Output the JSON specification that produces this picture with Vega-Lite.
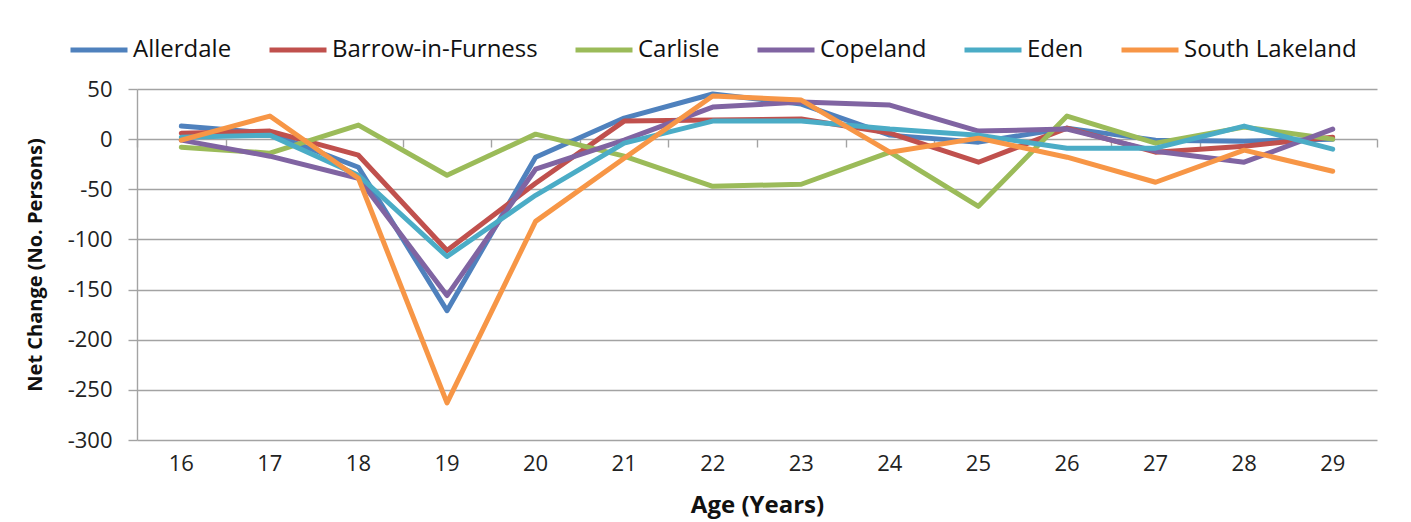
{
  "$schema": "https://vega.github.io/schema/vega-lite/v6.json",
  "width": 1240,
  "height": 351,
  "autosize": {"type": "none"},
  "padding": {"left": 137, "top": 89, "right": 34, "bottom": 82},
  "background": "white",
  "config": {"view": {"stroke": null}, "font": "Open Sans"},
  "data": {"values": [
    {"age": 16, "district": "Allerdale", "value": 13},
    {"age": 17, "district": "Allerdale", "value": 6},
    {"age": 18, "district": "Allerdale", "value": -28},
    {"age": 19, "district": "Allerdale", "value": -171},
    {"age": 20, "district": "Allerdale", "value": -18},
    {"age": 21, "district": "Allerdale", "value": 21},
    {"age": 22, "district": "Allerdale", "value": 45},
    {"age": 23, "district": "Allerdale", "value": 35},
    {"age": 24, "district": "Allerdale", "value": 4},
    {"age": 25, "district": "Allerdale", "value": -3},
    {"age": 26, "district": "Allerdale", "value": 11},
    {"age": 27, "district": "Allerdale", "value": -1},
    {"age": 28, "district": "Allerdale", "value": -2},
    {"age": 29, "district": "Allerdale", "value": 0},
    {"age": 16, "district": "Barrow-in-Furness", "value": 6},
    {"age": 17, "district": "Barrow-in-Furness", "value": 8},
    {"age": 18, "district": "Barrow-in-Furness", "value": -16},
    {"age": 19, "district": "Barrow-in-Furness", "value": -111},
    {"age": 20, "district": "Barrow-in-Furness", "value": -44},
    {"age": 21, "district": "Barrow-in-Furness", "value": 18},
    {"age": 22, "district": "Barrow-in-Furness", "value": 19},
    {"age": 23, "district": "Barrow-in-Furness", "value": 20},
    {"age": 24, "district": "Barrow-in-Furness", "value": 6},
    {"age": 25, "district": "Barrow-in-Furness", "value": -23},
    {"age": 26, "district": "Barrow-in-Furness", "value": 11},
    {"age": 27, "district": "Barrow-in-Furness", "value": -13},
    {"age": 28, "district": "Barrow-in-Furness", "value": -7},
    {"age": 29, "district": "Barrow-in-Furness", "value": 2},
    {"age": 16, "district": "Carlisle", "value": -8},
    {"age": 17, "district": "Carlisle", "value": -14},
    {"age": 18, "district": "Carlisle", "value": 14},
    {"age": 19, "district": "Carlisle", "value": -36},
    {"age": 20, "district": "Carlisle", "value": 5},
    {"age": 21, "district": "Carlisle", "value": -17},
    {"age": 22, "district": "Carlisle", "value": -47},
    {"age": 23, "district": "Carlisle", "value": -45},
    {"age": 24, "district": "Carlisle", "value": -13},
    {"age": 25, "district": "Carlisle", "value": -67},
    {"age": 26, "district": "Carlisle", "value": 23},
    {"age": 27, "district": "Carlisle", "value": -4},
    {"age": 28, "district": "Carlisle", "value": 12},
    {"age": 29, "district": "Carlisle", "value": 0},
    {"age": 16, "district": "Copeland", "value": -1},
    {"age": 17, "district": "Copeland", "value": -17},
    {"age": 18, "district": "Copeland", "value": -39},
    {"age": 19, "district": "Copeland", "value": -156},
    {"age": 20, "district": "Copeland", "value": -30},
    {"age": 21, "district": "Copeland", "value": -1},
    {"age": 22, "district": "Copeland", "value": 32},
    {"age": 23, "district": "Copeland", "value": 37},
    {"age": 24, "district": "Copeland", "value": 34},
    {"age": 25, "district": "Copeland", "value": 8},
    {"age": 26, "district": "Copeland", "value": 10},
    {"age": 27, "district": "Copeland", "value": -12},
    {"age": 28, "district": "Copeland", "value": -23},
    {"age": 29, "district": "Copeland", "value": 10},
    {"age": 16, "district": "Eden", "value": 2},
    {"age": 17, "district": "Eden", "value": 4},
    {"age": 18, "district": "Eden", "value": -36},
    {"age": 19, "district": "Eden", "value": -117},
    {"age": 20, "district": "Eden", "value": -56},
    {"age": 21, "district": "Eden", "value": -4},
    {"age": 22, "district": "Eden", "value": 18},
    {"age": 23, "district": "Eden", "value": 18},
    {"age": 24, "district": "Eden", "value": 10},
    {"age": 25, "district": "Eden", "value": 4},
    {"age": 26, "district": "Eden", "value": -9},
    {"age": 27, "district": "Eden", "value": -9},
    {"age": 28, "district": "Eden", "value": 13},
    {"age": 29, "district": "Eden", "value": -10},
    {"age": 16, "district": "South Lakeland", "value": -1},
    {"age": 17, "district": "South Lakeland", "value": 23},
    {"age": 18, "district": "South Lakeland", "value": -39},
    {"age": 19, "district": "South Lakeland", "value": -263},
    {"age": 20, "district": "South Lakeland", "value": -82},
    {"age": 21, "district": "South Lakeland", "value": -19},
    {"age": 22, "district": "South Lakeland", "value": 43},
    {"age": 23, "district": "South Lakeland", "value": 39},
    {"age": 24, "district": "South Lakeland", "value": -13},
    {"age": 25, "district": "South Lakeland", "value": 1},
    {"age": 26, "district": "South Lakeland", "value": -18},
    {"age": 27, "district": "South Lakeland", "value": -43},
    {"age": 28, "district": "South Lakeland", "value": -11},
    {"age": 29, "district": "South Lakeland", "value": -32}
  ]},
  "layer": [
    {
      "mark": {"type": "line", "strokeWidth": 5, "strokeJoin": "round", "strokeCap": "round"},
      "encoding": {
        "x": {
          "field": "age", "type": "ordinal",
          "scale": {"type": "band", "paddingInner": 0, "paddingOuter": 0},
          "axis": {
            "title": "Age (Years)", "labelAngle": 0, "domain": false, "ticks": false, "grid": false,
            "labelFontSize": 22, "labelColor": "#222", "labelPadding": 13,
            "titleFontSize": 24, "titleFontWeight": "bold", "titleColor": "#111", "titlePadding": 19
          }
        },
        "y": {
          "field": "value", "type": "quantitative",
          "scale": {"domain": [-300, 50], "nice": false, "zero": false},
          "axis": {
            "values": [-300, -250, -200, -150, -100, -50, 0, 50],
            "labelExpr": "'' + datum.value",
            "title": "Net Change (No. Persons)",
            "grid": true, "gridColor": "#a3a3a3", "gridWidth": 1.4,
            "domainColor": "#a3a3a3", "domainWidth": 1.4,
            "tickColor": "#a3a3a3", "tickWidth": 1.4, "tickSize": 9,
            "labelFontSize": 22, "labelColor": "#222", "labelPadding": 16,
            "titleFontSize": 20, "titleFontWeight": "bold", "titleColor": "#111", "titlePadding": 22
          }
        },
        "color": {
          "field": "district", "type": "nominal",
          "scale": {
            "domain": ["Allerdale", "Barrow-in-Furness", "Carlisle", "Copeland", "Eden", "South Lakeland"],
            "range": ["#4F81BD", "#C0504D", "#9BBB59", "#8064A2", "#4BACC6", "#F79646"]
          },
          "legend": {
            "title": null, "orient": "none", "legendX": -69, "legendY": -70,
            "direction": "horizontal", "columns": 6, "columnPadding": 27,
            "symbolType": "stroke", "symbolSize": 3249, "symbolStrokeWidth": 5,
            "labelFontSize": 24, "labelColor": "#111", "labelOffset": 3, "labelLimit": 0
          }
        }
      }
    },
    {
      "mark": {"type": "line", "strokeOpacity": 0},
      "encoding": {
        "x": {
          "field": "age", "type": "ordinal",
          "axis": {
            "orient": "bottom", "offset": -301, "labels": false, "title": null,
            "domain": false, "ticks": true, "tickBand": "extent", "tickSize": 8,
            "tickColor": "#a3a3a3", "tickWidth": 1.4, "grid": false
          }
        },
        "y": {"field": "value", "type": "quantitative"},
        "detail": {"field": "district"}
      }
    }
  ],
  "resolve": {"axis": {"x": "independent"}}
}
